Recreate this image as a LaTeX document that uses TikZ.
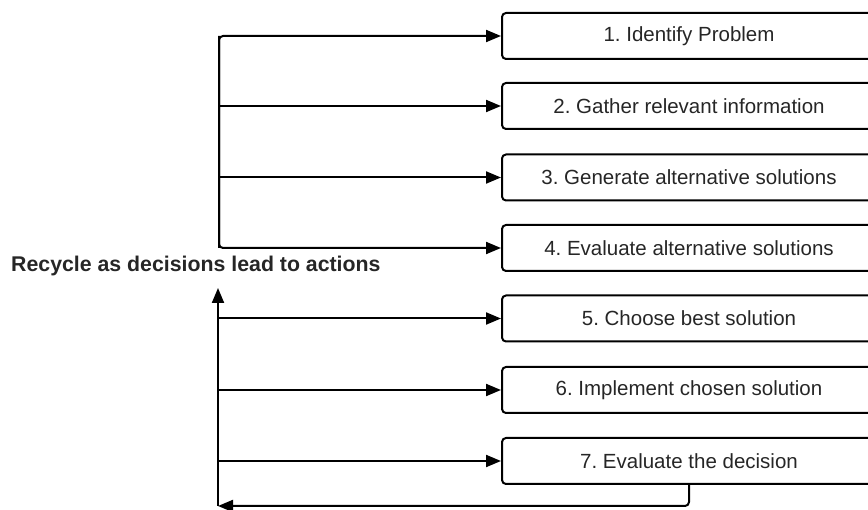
\documentclass[tikz,border=0pt]{standalone}
\usepackage{fontspec}
\setmainfont{Liberation Sans}
\usetikzlibrary{arrows.meta}
\frenchspacing
\begin{document}
\begin{tikzpicture}[x=1pt,y=-1pt,
  stepbox/.style={draw, line width=2pt, rounded corners=4pt, anchor=west,
    minimum width=374pt, minimum height=46pt, inner sep=0pt,
    font=\fontsize{20.5}{23}\selectfont, text=black!85},
  conn/.style={line width=2pt, -{Triangle[length=15pt,width=12pt]}},
  plain/.style={line width=2pt}]
\useasboundingbox (0,0) rectangle (868,510);
\clip (0,0) rectangle (868,510);
\node[stepbox] (b1) at (501,36) {1. Identify Problem};
\node[stepbox] (b2) at (501,106) {2. Gather relevant information};
\node[stepbox] (b3) at (501,177.5) {3. Generate alternative solutions};
\node[stepbox] (b4) at (501,248) {4. Evaluate alternative solutions};
\node[stepbox] (b5) at (501,318.5) {5. Choose best solution};
\node[stepbox] (b6) at (501,390) {6. Implement chosen solution};
\node[stepbox] (b7) at (501,461) {7. Evaluate the decision};
\node[anchor=west, inner sep=0pt, font=\bfseries\fontsize{21.3}{24}\selectfont, text=black!85] (lbl) at (11,266) {Recycle as decisions lead to actions};
\coordinate (ut) at (219,36);
\coordinate (ub) at (219,248);
\coordinate (lt) at (218,288);
\coordinate (lb) at (218,506);
\coordinate (rb) at (689,506);
\draw[conn, rounded corners=4pt] (ub) -- (ut) -- (b1.west);
\draw[conn, rounded corners=4pt] (ut) -- (ub) -- (b4.west);
\draw[conn] (ut |- b2.west) -- (b2.west);
\draw[conn] (ut |- b3.west) -- (b3.west);
\draw[conn] (lb) -- (lt);
\draw[conn] (lt |- b5.west) -- (b5.west);
\draw[conn] (lt |- b6.west) -- (b6.west);
\draw[conn] (lt |- b7.west) -- (b7.west);
\draw[conn, rounded corners=4pt] (rb |- b7.south) -- (rb) -- (lb);
\end{tikzpicture}
\end{document}
